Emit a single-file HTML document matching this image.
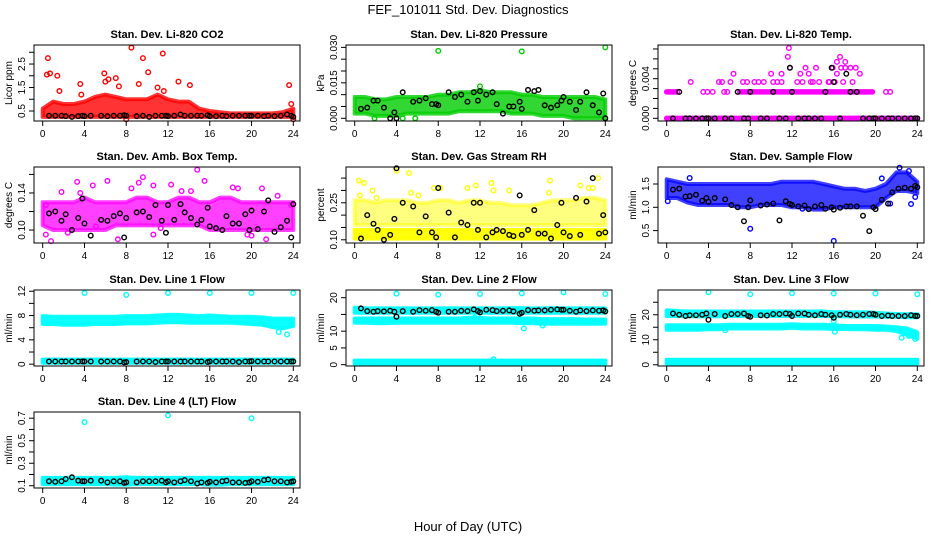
<!DOCTYPE html>
<html><head><meta charset="utf-8">
<style>
html,body{margin:0;padding:0;background:#fff;}
svg{display:block;font-family:"Liberation Sans",Arial,sans-serif;}
</style></head>
<body>
<svg id="fig" width="936" height="540" viewBox="0 0 936 540">
<text x="468" y="14" text-anchor="middle" font-size="13">FEF_101011  Std. Dev. Diagnostics</text>
<text x="468" y="531" text-anchor="middle" font-size="13">Hour of Day (UTC)</text>
</svg>
<script>
// ---------- data ----------
const hours = [0,1,2,3,4,5,6,7,8,9,10,11,12,13,14,15,16,17,18,19,20,21,22,23,24];
const blackHours = [0.6,1.2,1.8,2.2,2.8,3.4,3.8,4.0,4.6,5.6,6.2,6.8,7.4,7.8,8.0,9.0,9.6,10.2,10.8,11.4,11.8,12.0,12.6,13.2,13.6,14.2,14.8,15.2,15.8,16.0,16.6,17.2,17.6,18.2,18.8,19.4,19.8,20.0,20.6,21.2,21.6,22.2,22.8,23.4,23.8,24.0];

// CO2
const co2Hi = [0.6,0.9,0.8,0.8,0.9,1.1,1.2,1.1,1.0,1.0,1.0,1.2,1.0,0.9,0.9,0.6,0.5,0.45,0.4,0.4,0.4,0.4,0.4,0.45,0.6];
const co2Lo = [0.25,0.25,0.25,0.25,0.25,0.25,0.25,0.25,0.25,0.25,0.25,0.25,0.25,0.25,0.25,0.25,0.25,0.25,0.25,0.25,0.25,0.25,0.25,0.25,0.25];
const co2OutX = [0.5,0.4,0.7,1.4,1.6,3.6,3.7,5.9,6.0,6.3,7.0,7.3,8.5,9.6,10.1,9.2,11.5,11.0,13.0,14.1,11.6,23.6,23.8,24.0,8.0];
const co2OutY = [2.75,2.05,2.1,2.0,1.35,1.65,1.2,2.1,1.75,1.85,1.9,1.55,3.2,2.75,2.15,1.65,2.95,1.5,1.75,1.6,1.35,1.6,0.8,0.15,0.15];
const co2Black = [0.3,0.3,0.3,0.28,0.25,0.28,0.3,0.28,0.3,0.3,0.28,0.3,0.3,0.32,0.3,0.28,0.3,0.25,0.3,0.3,0.3,0.28,0.3,0.35,0.3,0.3,0.3,0.3,0.32,0.28,0.28,0.3,0.28,0.3,0.3,0.3,0.3,0.3,0.3,0.28,0.3,0.28,0.3,0.35,0.3,0.25];

// Pressure
const presHi = [0.009,0.009,0.008,0.008,0.009,0.009,0.009,0.009,0.010,0.010,0.011,0.011,0.012,0.011,0.011,0.011,0.010,0.010,0.009,0.009,0.009,0.009,0.009,0.009,0.008];
const presLo = [0.002,0.002,0.001,0.001,0.001,0.002,0.002,0.002,0.002,0.002,0.003,0.003,0.003,0.003,0.003,0.002,0.002,0.002,0.001,0.001,0.001,0.000,0.000,0.000,0.000];
const presOutX = [8,16,24,12,1.9,5.8,4.6];
const presOutY = [0.0285,0.0283,0.030,0.0135,0.000,0.000,0.000];
const presBlack = [0.004,0.0045,0.0075,0.0075,0.0045,0.000,0.0025,0.000,0.011,0.007,0.0075,0.0085,0.006,0.006,0.0055,0.011,0.009,0.010,0.007,0.011,0.0075,0.0115,0.01,0.011,0.006,0.002,0.005,0.005,0.007,0.004,0.012,0.0115,0.012,0.0055,0.0045,0.0055,0.0075,0.009,0.007,0.0035,0.007,0.011,0.0055,0.0025,0.0105,0.000];

// Li-820 temp
const tempRunStart = [0,7,0];
const tempRunEnd = [24,19.7,0.8];
const tempRunLevel = [0,0.00267,0.00267];
const tempOutX = [1.0,3.5,3.9,4.4,5.5,5.8,2.3,5.0,5.3,6.1,7.3,7.7,8.4,8.8,9.3,10.2,10.6,11,13,14,14.6,15.5,16.1,16.9,17.8,6.4,10,11.0,12.8,13.6,18.5,16.3,11.8,13.3,14.3,15.9,16.7,17.1,17.6,18.1,11.6,16.6,16.3,17.1,11.7,21.0,21.4,12.5,15.6,13.8];
const tempOutY = [0.00267,0.00267,0.00267,0.00267,0.00267,0.00267,0.00367,0.00367,0.00367,0.00367,0.00367,0.00367,0.00367,0.00367,0.00367,0.00367,0.00367,0.00367,0.00367,0.00367,0.00367,0.00367,0.00367,0.00367,0.00367,0.0045,0.0045,0.0045,0.0045,0.0045,0.0045,0.0045,0.0051,0.0051,0.0051,0.0051,0.0051,0.0051,0.0051,0.0051,0.0062,0.0062,0.0057,0.0057,0.0071,0.00267,0.00267,0.00367,0.00367,0.00367];
const tempBlack = [0,0.00267,0,0,0,0,0,0,0,0,0,0.00267,0,0,0.00267,0,0,0.00267,0,0,0.0051,0.00267,0,0,0,0,0,0.00267,0.0051,0.00367,0,0.0045,0.00267,0.00267,0,0,0,0,0,0,0,0,0,0,0,0];

// Amb box temp
const boxHi = [0.13,0.13,0.13,0.13,0.135,0.13,0.13,0.13,0.13,0.135,0.135,0.13,0.13,0.135,0.135,0.13,0.13,0.135,0.135,0.13,0.13,0.13,0.13,0.13,0.13];
const boxLo = [0.105,0.10,0.10,0.10,0.10,0.10,0.10,0.105,0.105,0.105,0.105,0.105,0.105,0.105,0.105,0.105,0.10,0.10,0.10,0.10,0.10,0.10,0.10,0.10,0.10];
const boxOutX = [0.3,0.3,0.8,1.8,3.3,3.6,4.8,6.2,7.2,8.5,9.2,9.6,10.6,10.6,12.3,13.3,14.2,14.8,15.5,18.2,18.7,19.6,20,21,21.4,22.5,23.8,2.4,5.1,11.3];
const boxOutY = [0.127,0.095,0.088,0.141,0.152,0.14,0.148,0.153,0.09,0.145,0.151,0.157,0.148,0.095,0.149,0.142,0.142,0.165,0.153,0.146,0.145,0.095,0.094,0.145,0.09,0.137,0.127,0.097,0.104,0.102];
const boxBlack = [0.118,0.12,0.11,0.117,0.1,0.113,0.134,0.107,0.094,0.111,0.11,0.115,0.118,0.092,0.113,0.119,0.12,0.114,0.127,0.11,0.097,0.127,0.111,0.128,0.119,0.113,0.106,0.111,0.124,0.104,0.102,0.1,0.115,0.107,0.107,0.117,0.1,0.121,0.101,0.12,0.132,0.098,0.103,0.11,0.092,0.128];

// Gas stream RH
const rhLowHi = [0.14,0.14,0.14,0.14,0.14,0.14,0.14,0.14,0.14,0.14,0.14,0.14,0.14,0.14,0.14,0.14,0.14,0.14,0.14,0.14,0.14,0.14,0.14,0.14,0.14];
const rhLowLo = [0.105,0.105,0.105,0.105,0.105,0.105,0.105,0.105,0.105,0.105,0.105,0.105,0.105,0.105,0.105,0.105,0.105,0.105,0.105,0.105,0.105,0.105,0.105,0.105,0.105];
const rhUpHi = [0.26,0.26,0.25,0.26,0.26,0.26,0.25,0.25,0.26,0.26,0.25,0.26,0.26,0.25,0.25,0.24,0.24,0.24,0.25,0.26,0.26,0.26,0.27,0.27,0.26];
const rhUpLo = [0.16,0.16,0.16,0.16,0.16,0.16,0.16,0.16,0.16,0.16,0.16,0.16,0.16,0.16,0.16,0.16,0.16,0.16,0.16,0.16,0.16,0.16,0.16,0.16,0.16];
const rhOutX = [0.4,0.9,1.7,4.0,5.2,5.4,7.6,8.2,10.8,11.6,13.1,13.3,14.8,18.7,18.6,21.6,22.4,23.3,0.5,2.1,6.1,22.8];
const rhOutY = [0.34,0.33,0.3,0.38,0.37,0.29,0.31,0.31,0.31,0.32,0.33,0.3,0.3,0.34,0.29,0.32,0.31,0.35,0.28,0.27,0.28,0.31];
const rhBlack = [0.105,0.2,0.165,0.14,0.1,0.12,0.185,0.39,0.25,0.235,0.13,0.195,0.13,0.11,0.31,0.21,0.11,0.17,0.16,0.25,0.14,0.25,0.11,0.13,0.14,0.135,0.12,0.115,0.28,0.12,0.14,0.22,0.125,0.125,0.105,0.16,0.25,0.13,0.115,0.27,0.12,0.255,0.35,0.125,0.2,0.13];

// Sample flow
const sfHi = [1.6,1.55,1.5,1.5,1.5,1.5,1.5,1.5,1.5,1.5,1.5,1.55,1.55,1.55,1.55,1.5,1.45,1.4,1.4,1.35,1.4,1.5,1.75,1.75,1.55];
const sfLo = [1.2,1.2,1.1,1.05,1.05,1.05,1.05,1.0,1.0,1.05,1.05,1.05,1.0,1.0,0.95,0.95,1.0,1.0,1.0,1.0,1.0,1.2,1.35,1.35,1.3];
const sfOutX = [0.1,2.2,8.0,16.0,20.6,22.3,23.2,23.4,23.8,21.4,13];
const sfOutY = [1.13,1.63,0.54,0.28,1.62,1.85,1.78,1.07,1.22,1.08,0.97];
const sfBlack = [1.38,1.4,1.23,1.24,1.27,1.14,1.2,1.12,1.2,1.17,1.05,1.0,0.7,1.0,1.15,1.04,1.06,1.08,0.72,1.13,1.07,1.05,1.02,1.04,0.96,1.02,1.05,0.97,1.0,0.95,0.99,1.02,1.02,1.02,0.82,0.49,1.0,0.96,1.16,1.08,1.32,1.4,1.42,1.4,1.46,1.43];

// Line 1
const l1Hi = [7.9,7.8,7.8,7.8,7.8,7.8,7.8,7.8,7.9,7.9,7.9,8.0,8.1,8.1,8.0,7.9,8.0,7.9,7.8,7.8,7.8,7.7,7.5,7.5,7.5];
const l1Lo = [6.6,6.6,6.5,6.5,6.5,6.6,6.6,6.6,6.7,6.7,6.7,6.8,6.9,6.9,6.8,6.8,6.8,6.8,6.8,6.7,6.6,6.5,6.1,5.9,6.3];
const l1BotHi = [0.75,0.75,0.75,0.75,0.75,0.75,0.75,0.75,0.75,0.75,0.75,0.75,0.75,0.75,0.75,0.75,0.75,0.75,0.75,0.75,0.75,0.75,0.75,0.75,0.75];
const l1BotLo = [0.25,0.25,0.25,0.25,0.25,0.25,0.25,0.25,0.25,0.25,0.25,0.25,0.25,0.25,0.25,0.25,0.25,0.25,0.25,0.25,0.25,0.25,0.25,0.25,0.25];
const l1OutX = [4,8,12,16,20,24,22.6,23.4,23.8];
const l1OutY = [11.7,11.4,11.7,11.7,11.7,11.7,5.3,4.9,6.4];
const l1Black = [0.45,0.45,0.45,0.45,0.45,0.45,0.45,0.45,0.45,0.45,0.45,0.45,0.45,0.3,0.35,0.45,0.45,0.45,0.35,0.45,0.45,0.45,0.45,0.45,0.45,0.45,0.45,0.45,0.35,0.45,0.45,0.45,0.45,0.45,0.35,0.45,0.45,0.5,0.45,0.45,0.45,0.45,0.45,0.45,0.45,0.45];

// Line 2
const l2UpHi = [17.0,16.8,16.8,16.8,16.8,16.8,16.8,16.8,16.8,16.8,16.8,16.8,16.8,16.8,16.8,16.9,16.9,16.8,16.8,16.9,16.8,16.8,16.8,16.8,16.8];
const l2UpLo = [15.5,15.5,15.5,15.5,15.5,15.5,15.5,15.5,15.5,15.5,15.5,15.5,15.5,15.5,15.5,15.5,15.5,15.5,15.5,15.5,15.5,15.5,15.5,15.5,15.5];
const l2MidHi = [13.8,13.8,13.8,13.8,13.8,13.8,13.8,13.8,13.8,13.8,13.8,14.0,14.0,13.8,13.8,13.8,13.8,13.8,13.6,13.6,13.6,13.6,13.5,13.5,13.5];
const l2MidLo = [12.5,12.5,12.4,12.4,12.5,12.5,12.5,12.5,12.5,12.5,12.5,12.5,12.5,12.5,12.5,12.5,12.4,12.4,12.2,12.2,12.2,12.2,12.2,12.2,12.2];
const l2BotHi = [1.2,1.2,1.2,1.2,1.2,1.2,1.2,1.2,1.2,1.2,1.2,1.2,1.2,1.2,1.2,1.2,1.2,1.2,1.2,1.2,1.2,1.2,1.2,1.2,1.2];
const l2BotLo = [0.3,0.3,0.3,0.3,0.3,0.3,0.3,0.3,0.3,0.3,0.3,0.3,0.3,0.3,0.3,0.3,0.3,0.3,0.3,0.3,0.3,0.3,0.3,0.3,0.3];
const l2OutX = [4,8,12,16,20,24,16.2,18,13.3,11.5];
const l2OutY = [21.2,20.9,21.1,21.3,21.6,21.1,10.8,11.7,1.6,14];
const l2Black = [16.8,16,15.8,16,15.9,16.1,15.8,14.3,16,15.8,16.3,16.1,16.3,15.8,15.5,15.8,15.8,16.1,16,16.5,16,15.6,16.4,16.3,16,16.1,16.2,15.9,15.2,15.5,16.3,16.1,16.2,16.2,16.4,16.5,16.4,16.4,16.1,15.8,16.2,16,16.2,16.1,16.2,15.9];

// Line 3
const l3UpHi = [21.8,21.5,21.3,21.3,21.3,21.3,21.3,21.3,21.3,21.3,21.3,21.3,21.3,21.3,21.3,21.3,21.0,21.0,21.0,21.0,20.8,20.5,20.3,20.2,20.2];
const l3UpLo = [19.5,19.5,19.4,19.4,19.4,19.4,19.5,19.5,19.5,19.5,19.5,19.5,19.5,19.5,19.5,19.5,19.4,19.4,19.3,19.3,19.3,19.2,19.2,19.0,19.0];
const l3MidHi = [15.8,15.8,15.8,15.8,15.8,15.8,16,16,16,16,16,16,16.2,16,16,16,15.8,15.5,15.5,15.5,15.5,15.3,15,14.5,13];
const l3MidLo = [14,14,14,14,14.2,14.2,14.5,14.5,14.5,14.5,14.5,14.5,14.8,14.5,14.5,14.5,14.3,14.3,14.2,14.2,14,14,13.5,12,10.5];
const l3BotHi = [2.0,2.0,2.0,2.0,2.0,2.0,2.0,2.0,2.0,2.0,2.0,2.0,2.0,2.0,2.0,2.0,2.0,2.0,2.0,2.0,2.0,2.0,2.0,2.0,2.0];
const l3BotLo = [0.5,0.5,0.5,0.5,0.5,0.5,0.5,0.5,0.5,0.5,0.5,0.5,0.5,0.5,0.5,0.5,0.5,0.5,0.5,0.5,0.5,0.5,0.5,0.5,0.5];
const l3OutX = [4,8,12,16,20,24,22.5,23.2,23.6,23.8,16.1,5.6,16];
const l3OutY = [29,28.2,28.6,28.5,28.5,28.2,10.8,11.5,12.6,10.3,13.2,13.8,17.5];
const l3Black = [20.5,20,19.5,19.8,19.8,20,20.5,18,20.3,19.5,20.3,20.3,20.5,19.5,19.2,19.8,19.7,20.3,20.3,20.5,20.3,19.5,20.5,20.5,20,19.8,20.3,20,19.8,18.8,20,20.3,20,19.8,20,20.3,20.3,20,19.5,19.7,19.5,19.5,19.5,19.8,19.5,19.5];

// Line 4 (LT)
const l4Hi = [0.17,0.17,0.17,0.17,0.17,0.17,0.17,0.17,0.175,0.17,0.17,0.17,0.17,0.17,0.17,0.17,0.17,0.17,0.17,0.17,0.17,0.17,0.17,0.17,0.17];
const l4Lo = [0.115,0.115,0.115,0.115,0.115,0.115,0.115,0.11,0.11,0.115,0.115,0.115,0.115,0.115,0.115,0.115,0.11,0.11,0.115,0.115,0.115,0.115,0.115,0.115,0.115];
const l4OutX = [4,12,20];
const l4OutY = [0.665,0.725,0.7];
const l4Black = [0.14,0.135,0.14,0.16,0.175,0.145,0.14,0.14,0.145,0.145,0.13,0.14,0.14,0.125,0.13,0.13,0.14,0.14,0.14,0.145,0.13,0.14,0.13,0.14,0.15,0.14,0.12,0.13,0.125,0.135,0.13,0.14,0.145,0.13,0.13,0.125,0.13,0.14,0.135,0.15,0.155,0.14,0.14,0.13,0.135,0.14];

const xTicks = [0,4,8,12,16,20,24];

// ---------- layout / panels ----------
const NS = "http://www.w3.org/2000/svg";
const svg = document.getElementById('fig');
const colLeft = [34,346,658], rowTop = [45,167,290,412], boxW = 266, boxH = 76;

const panels = [
 {slug:'co2', title:'Stan. Dev. Li-820 CO2', ylab:'Licor ppm', col:0,row:0, color:'#ff0000', ymin:0.075, ymax:3.31,
  yt:[0.5,1,1.5,2,2.5,3], yl:['0.5','','1.5','','2.5',''], bands:[[co2Lo,co2Hi,0.8]], runs:null, ox:co2OutX, oy:co2OutY, black:co2Black},
 {slug:'pressure', title:'Stan. Dev. Li-820 Pressure', ylab:'kPa', col:1,row:0, color:'#00cd00', ymin:-0.00114, ymax:0.031,
  yt:[0,0.005,0.01,0.015,0.02,0.025,0.03], yl:['0.000','','','0.015','','','0.030'], bands:[[presLo,presHi,0.8]], runs:null, ox:presOutX, oy:presOutY, black:presBlack},
 {slug:'li820-temp', title:'Stan. Dev. Li-820 Temp.', ylab:'degrees C', col:2,row:0, color:'#ff00ff', ymin:-0.00027, ymax:0.0074,
  yt:[0,0.001,0.002,0.003,0.004,0.005,0.006,0.007], yl:['0.000','','','','0.004','','',''], bands:[], runs:[tempRunStart,tempRunEnd,tempRunLevel], ox:tempOutX, oy:tempOutY, black:tempBlack},
 {slug:'amb-box-temp', title:'Stan. Dev. Amb. Box Temp.', ylab:'degrees C', col:0,row:1, color:'#ff00ff', ymin:0.086, ymax:0.168,
  yt:[0.10,0.12,0.14,0.16], yl:['0.10','','0.14',''], bands:[[boxLo,boxHi,0.75]], runs:null, ox:boxOutX, oy:boxOutY, black:boxBlack},
 {slug:'gas-rh', title:'Stan. Dev. Gas Stream RH', ylab:'percent', col:1,row:1, color:'#ffff00', ymin:0.087, ymax:0.395,
  yt:[0.10,0.15,0.20,0.25,0.30,0.35], yl:['0.10','','','0.25','',''], bands:[[rhUpLo,rhUpHi,0.5],[rhLowLo,rhLowHi,0.95]], runs:null, ox:rhOutX, oy:rhOutY, black:rhBlack},
 {slug:'sample-flow', title:'Stan. Dev. Sample Flow', ylab:'ml/min', col:2,row:1, color:'#0000ff', ymin:0.234, ymax:1.865,
  yt:[0.5,1.0,1.5], yl:['0.5','1.0','1.5'], bands:[[sfLo,sfHi,0.75]], runs:null, ox:sfOutX, oy:sfOutY, black:sfBlack},
 {slug:'line1-flow', title:'Stan. Dev. Line 1 Flow', ylab:'ml/min', col:0,row:2, color:'#00ffff', ymin:-0.3, ymax:12.2,
  yt:[0,2,4,6,8,10,12], yl:['0','','4','','8','','12'], bands:[[l1Lo,l1Hi,0.95],[l1BotLo,l1BotHi,1]], runs:null, ox:l1OutX, oy:l1OutY, black:l1Black},
 {slug:'line2-flow', title:'Stan. Dev. Line 2 Flow', ylab:'ml/min', col:1,row:2, color:'#00ffff', ymin:-0.4, ymax:22.3,
  yt:[0,5,10,15,20], yl:['0','5','10','','20'], bands:[[l2UpLo,l2UpHi,0.95],[l2MidLo,l2MidHi,0.95],[l2BotLo,l2BotHi,1]], runs:null, ox:l2OutX, oy:l2OutY, black:l2Black},
 {slug:'line3-flow', title:'Stan. Dev. Line 3 Flow', ylab:'ml/min', col:2,row:2, color:'#00ffff', ymin:-0.5, ymax:29.9,
  yt:[0,5,10,15,20,25], yl:['0','','10','','20',''], bands:[[l3UpLo,l3UpHi,0.95],[l3MidLo,l3MidHi,0.95],[l3BotLo,l3BotHi,1]], runs:null, ox:l3OutX, oy:l3OutY, black:l3Black},
 {slug:'line4-flow', title:'Stan. Dev. Line 4 (LT) Flow', ylab:'ml/min', col:0,row:3, color:'#00ffff', ymin:0.08, ymax:0.755,
  yt:[0.1,0.2,0.3,0.4,0.5,0.6,0.7], yl:['0.1','','0.3','','0.5','','0.7'], bands:[[l4Lo,l4Hi,0.95]], runs:null, ox:l4OutX, oy:l4OutY, black:l4Black}
];

function mk(tag, attrs, parent){
  const e = document.createElementNS(NS, tag);
  for (const k in attrs) e.setAttribute(k, attrs[k]);
  (parent||svg).appendChild(e);
  return e;
}

panels.forEach(p => {
  const L = colLeft[p.col], T = rowTop[p.row], B = T + boxH;
  const xs = h => L + 8.7 + h * (250.6/24);
  const ys = v => B - (v - p.ymin) / (p.ymax - p.ymin) * boxH;
  const g = mk('g', {});
  
  

  const t = mk('text', {x:L+boxW/2, y:T-7, 'text-anchor':'middle', 'font-size':'11', 'font-weight':'bold'}, g);
  t.textContent = p.title;
  
  

  p.bands.forEach((b, bi) => {
    const lo = b[0], hi = b[1];
    let d = '';
    hours.forEach((h,i) => { d += (i ? 'L' : 'M') + xs(h).toFixed(1) + ',' + ys(hi[i]).toFixed(1); });
    for (let i = hours.length-1; i >= 0; i--) d += 'L' + xs(hours[i]).toFixed(1) + ',' + ys(lo[i]).toFixed(1);
    d += 'Z';
    const pa = mk('path', {d:d, fill:p.color, 'fill-opacity':b[2], stroke:p.color, 'stroke-opacity':b[2], 'stroke-width':'4', 'stroke-linejoin':'round'}, g);
    
    
  });
  if (p.runs) {
    const [s, e, lv] = p.runs;
    s.forEach((sv, i) => {
      const ln = mk('line', {x1:xs(sv), x2:xs(e[i]), y1:ys(lv[i]), y2:ys(lv[i]), stroke:p.color, 'stroke-width':'5.5', 'stroke-linecap':'round'}, g);
      
      
    });
  }
  p.ox.forEach((x, i) => {
    const c = mk('circle', {cx:xs(x), cy:ys(p.oy[i]), r:'2.3', fill:'none', stroke:p.color, 'stroke-width':'1.4'}, g);
    
    
  });
  const n = Math.min(blackHours.length, p.black.length);
  for (let i = 0; i < n; i++) {
    const c = mk('circle', {cx:xs(blackHours[i]), cy:ys(p.black[i]), r:'2.3', fill:'none', stroke:'#000', 'stroke-width':'1.4'}, g);
    
    
  }

  const r = mk('rect', {x:L, y:T, width:boxW, height:boxH, fill:'none', stroke:'#000', 'stroke-width':'1'}, g);
  
  

  const xa = mk('g', {}, g);
  
  
  xTicks.forEach(h => {
    mk('line', {x1:xs(h), x2:xs(h), y1:B, y2:B+5, stroke:'#000'}, xa);
    const tx = mk('text', {x:xs(h), y:B+16, 'text-anchor':'middle', 'font-size':'10'}, xa);
    tx.textContent = h;
  });
  const ya = mk('g', {}, g);
  
  
  mk('line', {x1:L, x2:L, y1:ys(p.yt[0]), y2:ys(p.yt[p.yt.length-1]), stroke:'#000'}, ya);
  p.yt.forEach((v, i) => {
    const y = ys(v);
    mk('line', {x1:L-5, x2:L, y1:y, y2:y, stroke:'#000'}, ya);
    if (p.yl[i]) {
      const ty = mk('text', {x:0, y:0, 'text-anchor':'middle', 'font-size':'10', transform:'translate(' + (L-9) + ',' + y + ') rotate(-90)'}, ya);
      ty.textContent = p.yl[i];
    }
  });
  const yt = mk('text', {x:0, y:0, 'text-anchor':'middle', 'font-size':'10', transform:'translate(' + (L-22) + ',' + (T+boxH/2) + ') rotate(-90)'}, g);
  yt.textContent = p.ylab;
  
  
});
</script>
</body></html>
